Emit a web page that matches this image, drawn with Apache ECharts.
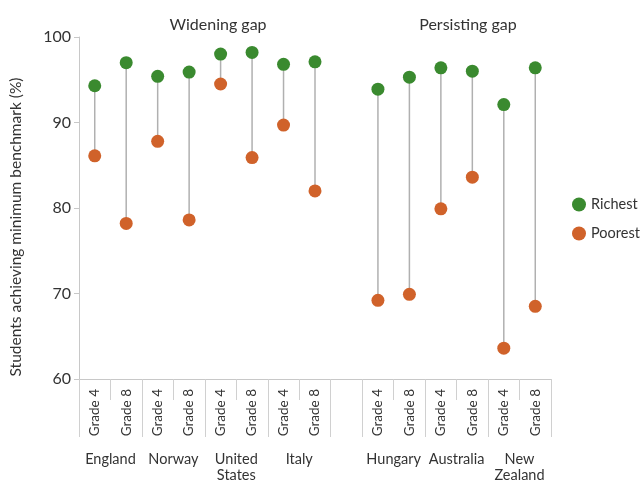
<!DOCTYPE html>
<html lang="en">
<head>
    <meta charset="UTF-8">
    <title>Students achieving minimum benchmark</title>
    <script type="text/javascript" src="https://cdn.jsdelivr.net/npm/echarts@6/dist/echarts.min.js"></script>
</head>
<body style="margin:0">
    <div id="main" style="width: 642px; height:483px;"></div>
    <script type="text/javascript">
        // one slot per grade, with an empty slot between the two groups
        var grades = ['Grade 4', 'Grade 8', 'Grade 4', 'Grade 8', 'Grade 4', 'Grade 8', 'Grade 4', 'Grade 8',
            '', 'Grade 4', 'Grade 8', 'Grade 4', 'Grade 8', 'Grade 4', 'Grade 8'];
        var countries = ['England', 'Norway', 'United\nStates', 'Italy', 'Hungary', 'Australia', 'New\nZealand'];
        // where the country names sit, and the long separators, on a 0..15 scale
        var countryPos = [1, 3, 5, 7, 10, 12, 14];
        var separatorPos = [0, 2, 4, 6, 8, 9, 11, 13, 15];
        var richest = [94.3, 97.0, 95.4, 95.9, 98.0, 98.2, 96.8, 97.1, '-', 93.9, 95.3, 96.4, 96.0, 92.1, 96.4];
        var poorest = [86.1, 78.2, 87.8, 78.6, 94.5, 85.9, 89.7, 82.0, '-', 69.2, 69.9, 79.9, 83.6, 63.6, 68.5];
        var yTicks = [60, 70, 80, 90, 100];

        var font = 'Lato, "Open Sans", sans-serif';
        var green = '#3a8a2f';
        var orange = '#d0622a';

        var myChart = echarts.init(document.getElementById('main'));

        var pairs = [];
        for (var i = 0; i < grades.length; i++) {
            if (richest[i] !== '-') pairs.push([i, richest[i], poorest[i]]);
        }

        var option = {
            textStyle: { fontFamily: font, color: '#333' },
            animation: false,
            title: [
                { text: 'Widening gap', left: 213, top: 12, textAlign: 'center',
                  textStyle: { fontFamily: font, fontSize: 16, fontWeight: 'normal', color: '#333' } },
                { text: 'Persisting gap', left: 463, top: 12, textAlign: 'center',
                  textStyle: { fontFamily: font, fontSize: 16, fontWeight: 'normal', color: '#333' } }
            ],
            legend: {
                orient: 'vertical',
                left: 567,
                top: 192,
                icon: 'circle',
                itemWidth: 14,
                itemHeight: 14,
                itemGap: 14,
                data: ['Richest', 'Poorest'],
                textStyle: { fontFamily: font, fontSize: 14.5, color: '#333' }
            },
            grid: { left: 79, right: 91, top: 37, bottom: 101 },
            xAxis: [{
                type: 'category',
                data: grades,
                axisLine: { lineStyle: { color: '#c8c8c8' } },
                axisTick: { show: true, interval: 0, length: 21, lineStyle: { color: '#d0d0d0' } },
                axisLabel: {
                    interval: 0, rotate: 90, margin: 10,
                    fontFamily: font, fontSize: 13.5, color: '#333'
                }
            }, {
                type: 'value',
                min: 0,
                max: 15,
                position: 'bottom',
                axisLine: { show: false },
                splitLine: { show: false },
                axisTick: { show: true, customValues: separatorPos, length: 58, lineStyle: { color: '#d0d0d0' } },
                axisLabel: {
                    customValues: countryPos,
                    margin: 72,
                    verticalAlign: 'top',
                    lineHeight: 16,
                    fontFamily: font, fontSize: 14.5, color: '#333',
                    formatter: function (v) {
                        var k = countryPos.indexOf(v);
                        return k >= 0 ? countries[k] : '';
                    }
                }
            }],
            yAxis: {
                type: 'value',
                min: yTicks[0],
                max: yTicks[yTicks.length - 1],
                interval: 10,
                name: 'Students achieving minimum benchmark (%)',
                nameLocation: 'middle',
                nameGap: 55,
                nameTextStyle: { fontFamily: font, fontSize: 15.5, color: '#333', padding: [0, 38, 0, 0] },
                axisLine: { show: true, lineStyle: { color: '#c8c8c8' } },
                axisTick: { show: true, length: 5, lineStyle: { color: '#c8c8c8' } },
                splitLine: { show: false },
                axisLabel: { fontFamily: font, fontSize: 16, color: '#333', margin: 8 }
            },
            series: [{
                type: 'custom',
                xAxisIndex: 0,
                silent: true,
                z: 1,
                data: pairs,
                renderItem: function (params, api) {
                    var a = api.coord([api.value(0), api.value(1)]);
                    var b = api.coord([api.value(0), api.value(2)]);
                    return {
                        type: 'line',
                        shape: { x1: a[0], y1: a[1], x2: b[0], y2: b[1] },
                        style: { stroke: '#b0b0b0', lineWidth: 1.5 }
                    };
                }
            }, {
                name: 'Richest',
                type: 'scatter',
                xAxisIndex: 0,
                z: 3,
                symbolSize: 13,
                itemStyle: { color: green, opacity: 1 },
                data: richest
            }, {
                name: 'Poorest',
                type: 'scatter',
                xAxisIndex: 0,
                z: 3,
                symbolSize: 13,
                itemStyle: { color: orange, opacity: 1 },
                data: poorest
            }]
        };

        myChart.setOption(option);
    </script>
</body>
</html>
